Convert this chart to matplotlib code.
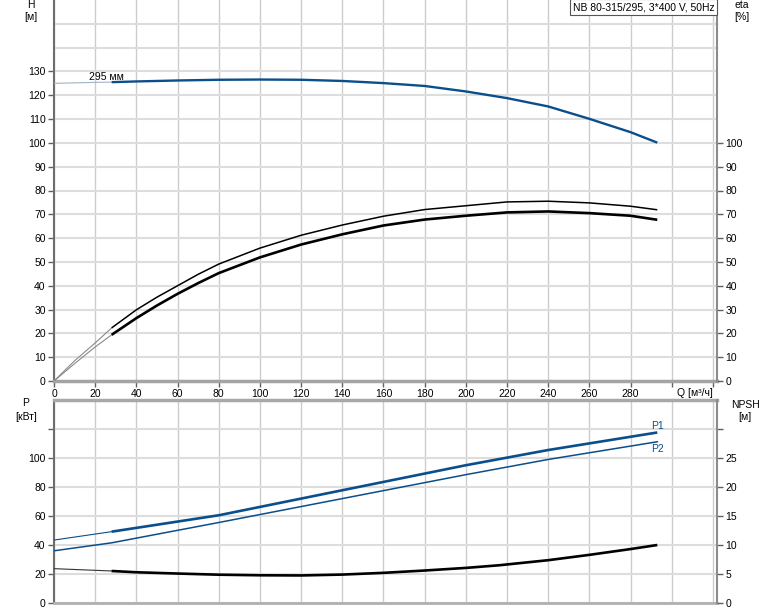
import matplotlib
matplotlib.use("Agg")
import matplotlib.pyplot as plt

plt.rcParams["font.family"] = ["Liberation Sans", "DejaVu Sans"]
plt.rcParams["font.size"] = 7.5

BLUE = "#0b4e8c"
THIN = "#8a8a8a"

# flow rate where the operating range (thick lines) starts
Q_START = 28

# head curve, 295 mm impeller
q_head = [0, 20, 28, 40, 60, 80, 100, 120, 140, 160, 180, 200, 220, 240, 260, 280, 293]
head = [125.0, 125.4, 125.5, 125.8, 126.2, 126.5, 126.6, 126.5, 126.0, 125.1, 123.9,
        121.6, 118.8, 115.3, 110.1, 104.5, 100.1]

# efficiency curves
q_eta = [0, 10, 20, 28, 40, 50, 60, 70, 80, 100, 120, 140, 160, 180, 200, 220, 240,
         260, 280, 293]
eta_upper = [0, 8.5, 16.0, 22.3, 29.9, 35.2, 40.0, 44.8, 49.1, 55.8, 61.2, 65.5, 69.2,
             72.0, 73.6, 75.2, 75.5, 74.8, 73.4, 71.9]
eta_lower = [0, 7.3, 14.3, 19.4, 26.4, 31.7, 36.6, 41.1, 45.3, 51.9, 57.3, 61.6, 65.3,
             67.8, 69.4, 70.8, 71.2, 70.5, 69.4, 67.7]

# power curves
q_pow = [0, 28, 80, 120, 160, 200, 240, 293]
p1 = [43.4, 49.2, 60.5, 72.0, 83.5, 95.0, 105.5, 117.6]
p2 = [36.0, 41.5, 55.5, 66.5, 77.5, 88.5, 99.0, 111.2]

# NPSH curve
q_npsh = [0, 28, 40, 60, 80, 100, 120, 140, 160, 180, 200, 216, 240, 260, 280, 293]
npsh = [5.92, 5.52, 5.30, 5.08, 4.88, 4.78, 4.75, 4.90, 5.20, 5.60, 6.05, 6.50,
        7.38, 8.30, 9.30, 10.0]

q_ticks = list(range(0, 321, 20))
q_labels = [str(q) if q <= 280 else "" for q in q_ticks]


def split(q, v):
    lo = [(a, b) for a, b in zip(q, v) if a <= Q_START]
    hi = [(a, b) for a, b in zip(q, v) if a >= Q_START]
    if lo[-1][0] < Q_START:
        lo.append(hi[0])
    return list(zip(*lo)), list(zip(*hi))


def plot_curve(ax, q, v, color, lw, thin_color=THIN):
    (ql, vl), (qh, vh) = split(q, v)
    ax.plot(ql, vl, color=thin_color, lw=0.8, zorder=3)
    ax.plot(qh, vh, color=color, lw=lw, zorder=4, solid_capstyle="butt")


def style_axes(ax, twin):
    ax.set_xlim(0, 322)
    ax.xaxis.grid(True, color="#cccccc", lw=1.0)
    ax.yaxis.grid(True, color="#dddddd", lw=1.5)
    ax.set_axisbelow(True)
    ax.spines["left"].set_color("#6e6e6e")
    ax.spines["left"].set_linewidth(1.5)
    ax.spines["right"].set_visible(False)
    twin.spines["left"].set_visible(False)
    twin.spines["top"].set_visible(False)
    twin.spines["bottom"].set_visible(False)
    twin.spines["right"].set_color("#8c8c8c")
    twin.spines["right"].set_linewidth(1.5)
    for a in (ax, twin):
        a.tick_params(labelsize=7.5, length=4, width=1, color="#606060", pad=2)


fig = plt.figure(figsize=(7.74, 6.11), dpi=100)

# upper chart: head and efficiency
ax1 = fig.add_axes([54 / 774, 1 - 381 / 611, 663 / 774, 381 / 611])
ax2 = ax1.twinx()
style_axes(ax1, ax2)
ax1.set_ylim(0, 160)
ax2.set_ylim(0, 160)
ax1.set_yticks(range(0, 151, 10))
ax1.set_yticklabels([str(v) if v <= 130 else "" for v in range(0, 151, 10)])
for t in ax1.yaxis.get_major_ticks()[14:]:
    t.tick1line.set_visible(False)
ax2.set_yticks(range(0, 101, 10))
ax1.set_xticks(q_ticks)
ax1.set_xticklabels(q_labels)
ax1.spines["top"].set_visible(False)
ax1.spines["bottom"].set_color("#a4a4a4")
ax1.spines["bottom"].set_linewidth(2.5)

plot_curve(ax1, q_head, head, BLUE, 1.7, thin_color="#9fb3c8")
plot_curve(ax1, q_eta, eta_upper, "black", 1.1)
plot_curve(ax1, q_eta, eta_lower, "black", 1.9)
ax1.text(25.7, 127.8, "295 мм", ha="center", va="center", fontsize=7.5)

# lower chart: power and NPSH
ax3 = fig.add_axes([54 / 774, 1 - 603 / 611, 663 / 774, 203 / 611])
ax4 = ax3.twinx()
style_axes(ax3, ax4)
ax3.set_ylim(0, 140)
ax4.set_ylim(0, 35)
ax3.set_yticks(range(0, 121, 20))
ax3.set_yticklabels([str(v) if v <= 100 else "" for v in range(0, 121, 20)])
ax4.set_yticks(range(0, 31, 5))
ax4.set_yticklabels([str(v) if v <= 25 else "" for v in range(0, 31, 5)])
ax3.set_xticks(q_ticks)
ax3.set_xticklabels([])
ax3.tick_params(axis="x", length=0)
ax3.spines["top"].set_color("#a8a8a8")
ax3.spines["top"].set_linewidth(2.5)
ax3.spines["bottom"].set_color("#b0b0b0")
ax3.spines["bottom"].set_linewidth(2.0)

plot_curve(ax3, q_pow, p1, BLUE, 1.9, thin_color=BLUE)
ax3.plot(q_pow, p2, color=BLUE, lw=1.1, zorder=4)
plot_curve(ax4, q_npsh, npsh, "black", 1.9, thin_color="#333333")
ax3.text(q_pow[-1], 122.3, "P1", color=BLUE, ha="center", va="center")
ax3.text(q_pow[-1], 106.4, "P2", color=BLUE, ha="center", va="center")


# axis captions
def fig_text(x, y, s, **kw):
    fig.text(x / 774, 1 - y / 611, s, ha="center", va="center", fontsize=7.5, **kw)


fig_text(30.7, 5, "H")
fig_text(30.7, 17, "[м]")
fig_text(741.7, 5, "eta")
fig_text(741.7, 17, "[%]")
fig_text(26, 403.5, "P")
fig_text(26, 416.5, "[кВт]")
fig_text(745, 404.5, "NPSH")
fig_text(745, 416.5, "[м]")
fig_text(695, 392.5, "Q [м³/ч]")
fig_text(643.7, 7, "NB 80-315/295, 3*400 V, 50Hz",
         bbox=dict(boxstyle="square,pad=0.25", fc="white", ec="#555555", lw=0.8))

fig.savefig("out.png", dpi=100)
